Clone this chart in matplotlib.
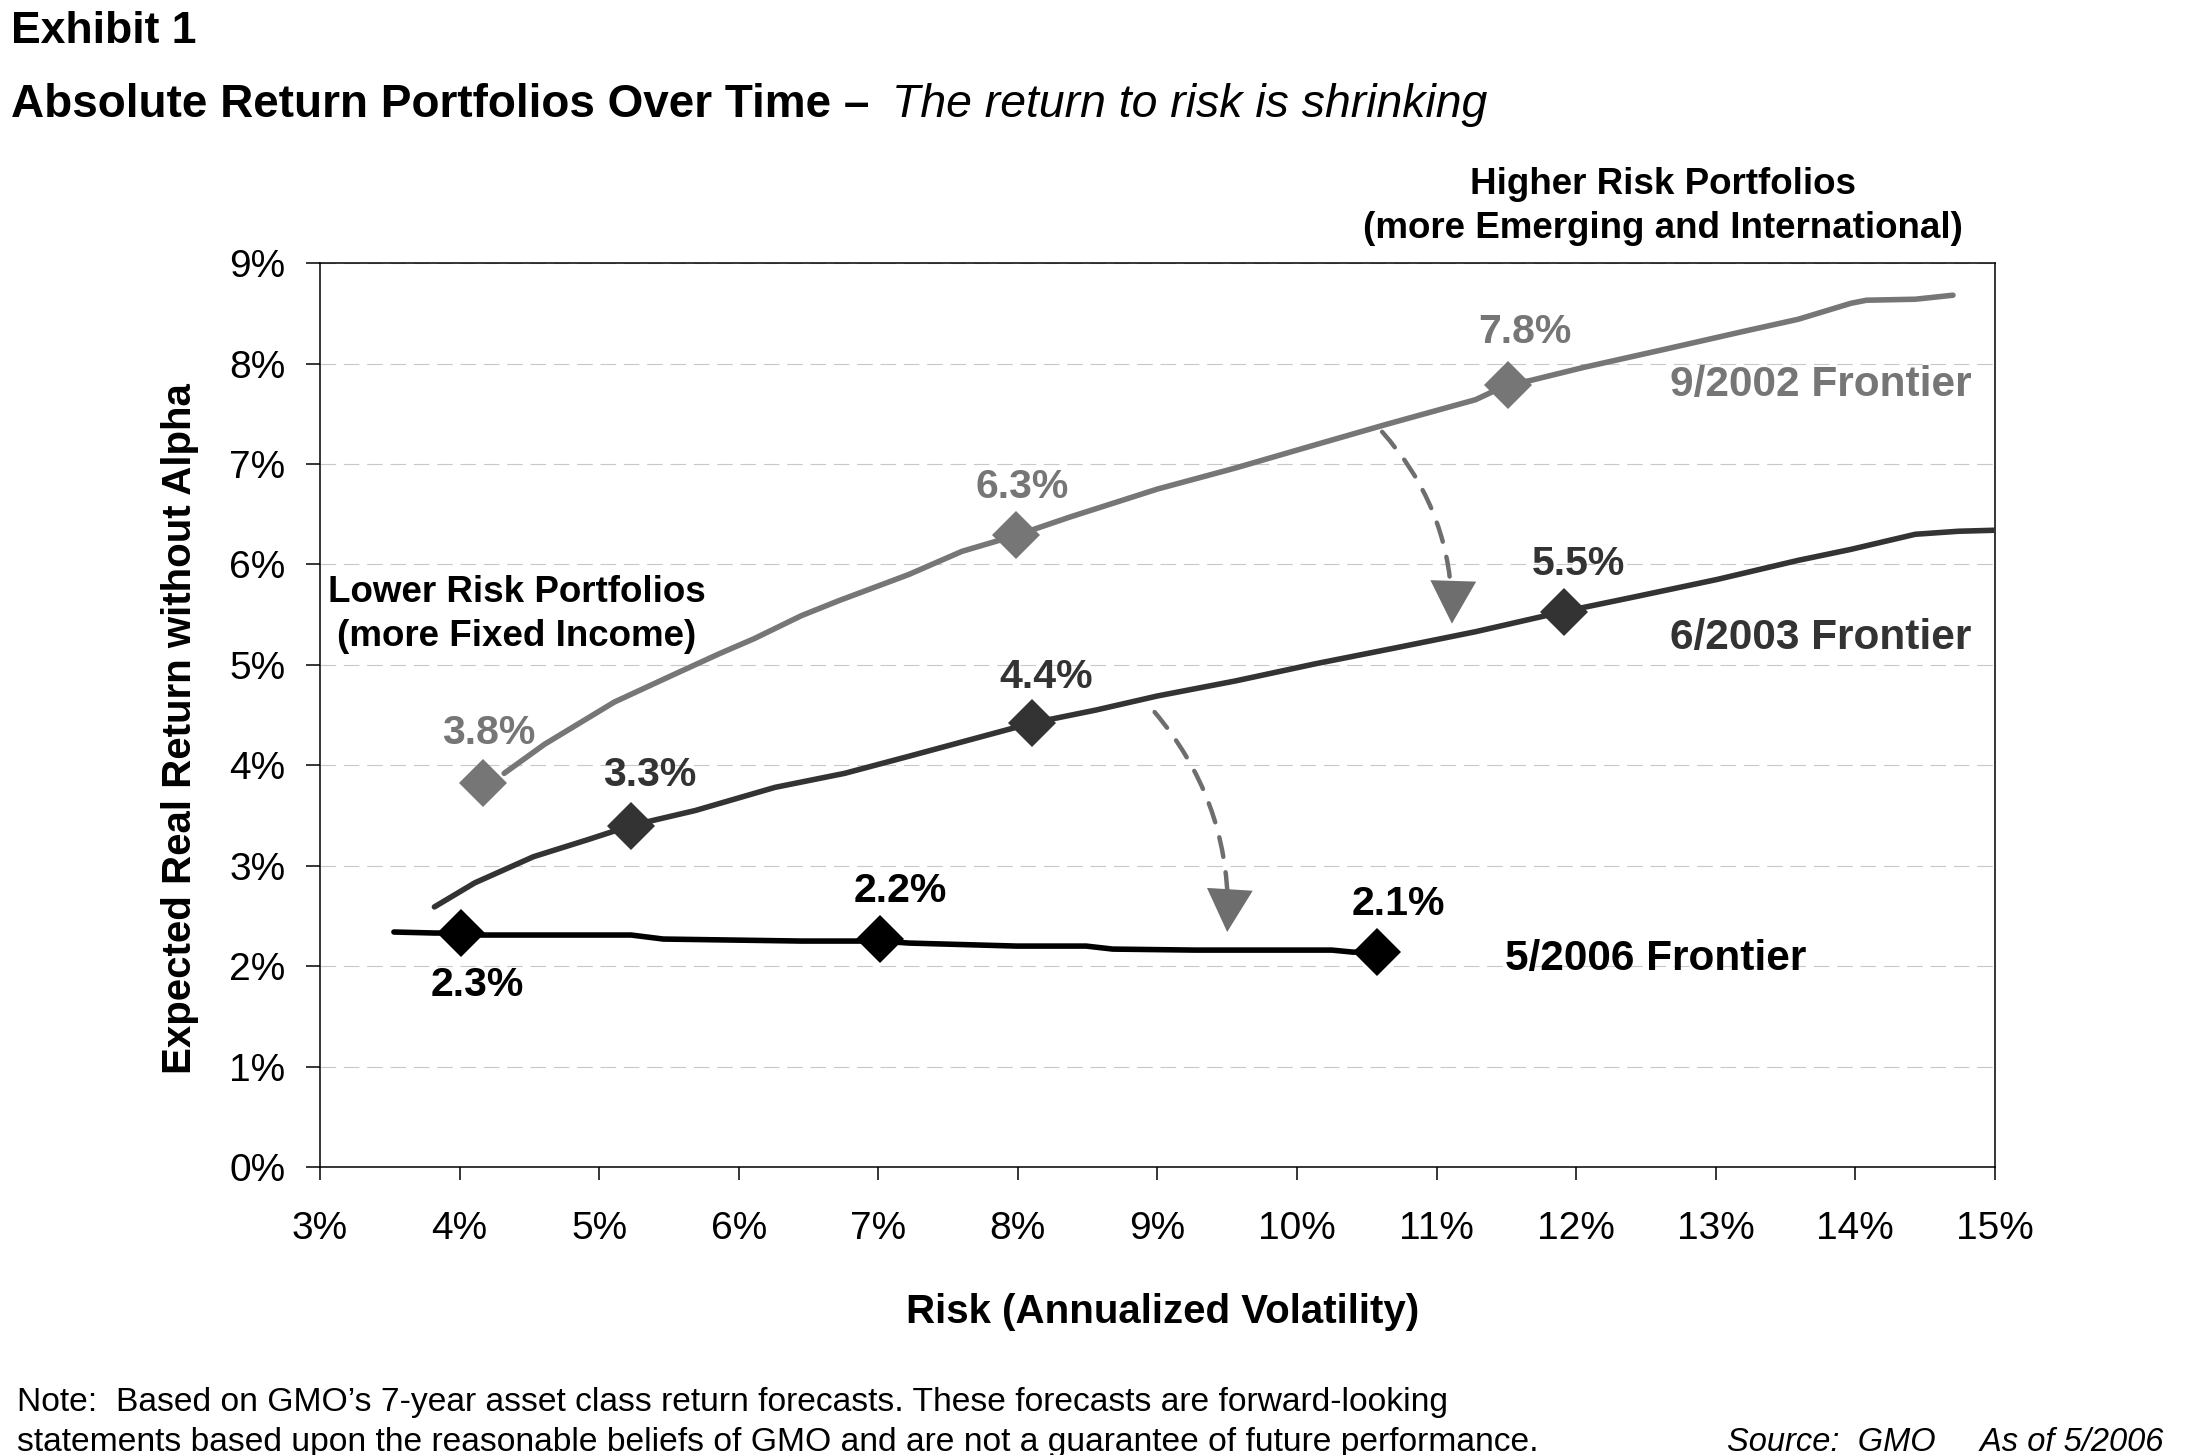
import matplotlib
matplotlib.use('Agg')
import matplotlib.pyplot as plt
from matplotlib.patches import FancyArrowPatch
from matplotlib.ticker import FuncFormatter

plt.rcParams['font.family'] = ['Liberation Sans', 'DejaVu Sans']

# ---------------- data ----------------
risk_2002 = [4.32, 4.61, 5.11, 5.53, 5.86, 6.11, 6.45, 6.72, 7.22, 7.60, 7.99, 8.37, 9.00,
             9.56, 10.13, 10.63, 11.28, 11.51, 11.67, 12.05, 12.63, 13.20, 13.59, 13.97,
             14.08, 14.43, 14.70]
ret_2002 = [3.92, 4.21, 4.63, 4.90, 5.11, 5.26, 5.49, 5.64, 5.90, 6.13, 6.29, 6.47, 6.75,
            6.96, 7.19, 7.39, 7.64, 7.79, 7.83, 7.96, 8.14, 8.32, 8.44, 8.60,
            8.63, 8.64, 8.68]

risk_2003 = [3.82, 4.11, 4.53, 4.92, 5.23, 5.69, 6.26, 6.76, 7.22, 8.10, 8.56, 9.00, 9.56,
             10.13, 10.71, 11.28, 11.91, 12.43, 13.01, 13.59, 13.97, 14.43, 14.74, 15.00]
ret_2003 = [2.59, 2.83, 3.09, 3.26, 3.40, 3.55, 3.78, 3.92, 4.09, 4.42, 4.55, 4.69, 4.84,
            5.01, 5.17, 5.33, 5.53, 5.68, 5.85, 6.04, 6.15, 6.30, 6.33, 6.34]

risk_2006 = [3.53, 3.82, 4.01, 4.15, 5.23, 5.46, 6.45, 7.01, 7.22, 7.99, 8.49, 8.68, 9.27,
             10.25, 10.40, 10.57]
ret_2006 = [2.34, 2.33, 2.33, 2.31, 2.31, 2.27, 2.25, 2.25, 2.23, 2.20, 2.20, 2.17, 2.16,
            2.16, 2.14, 2.14]

pt_risk_2002 = [4.17, 7.99, 11.51]
pt_ret_2002 = [3.82, 6.29, 7.79]
pt_lab_2002 = ['3.8%', '6.3%', '7.8%']

pt_risk_2003 = [5.23, 8.10, 11.91]
pt_ret_2003 = [3.40, 4.42, 5.53]
pt_lab_2003 = ['3.3%', '4.4%', '5.5%']

pt_risk_2006 = [4.01, 7.01, 10.57]
pt_ret_2006 = [2.33, 2.27, 2.14]
pt_lab_2006 = ['2.3%', '2.2%', '2.1%']

x_ticks = [3, 4, 5, 6, 7, 8, 9, 10, 11, 12, 13, 14, 15]
y_ticks = [0, 1, 2, 3, 4, 5, 6, 7, 8, 9]

C02 = '#767676'
C03 = '#333333'
C06 = '#000000'
CARROW = '#6e6e6e'

# ---------------- figure ----------------
fig = plt.figure(figsize=(22.05, 14.55), dpi=100)
ax = fig.add_axes([0.1451, 0.1979, 0.7596, 0.6213])

ax.set_xlim(3, 15)
ax.set_ylim(0, 9)
ax.set_xticks(x_ticks)
ax.set_yticks(y_ticks)
fmt = FuncFormatter(lambda v, p: f'{v:.0f}%')
ax.xaxis.set_major_formatter(fmt)
ax.yaxis.set_major_formatter(fmt)
ax.tick_params(axis='x', direction='out', length=9.5, width=1.1, pad=22, labelsize=28)
ax.tick_params(axis='y', direction='out', length=10, width=1.1, pad=15, labelsize=28)
for s in ax.spines.values():
    s.set_linewidth(1.1)
    s.set_color('black')

ax.yaxis.grid(True, linestyle=(0, (14, 7)), color='#c8c8c8', linewidth=0.8, zorder=0)
ax.set_axisbelow(True)

lw = 4.0
ms = 24
ax.plot(risk_2002, ret_2002, color=C02, lw=lw, solid_capstyle='round', solid_joinstyle='round', zorder=3)
ax.plot(risk_2003, ret_2003, color=C03, lw=lw, solid_capstyle='round', solid_joinstyle='round', zorder=3)
ax.plot(risk_2006, ret_2006, color=C06, lw=lw, solid_capstyle='round', solid_joinstyle='round', zorder=3)
ax.plot(pt_risk_2002, pt_ret_2002, 'D', color=C02, ms=ms, mew=0, zorder=4)
ax.plot(pt_risk_2003, pt_ret_2003, 'D', color=C03, ms=ms, mew=0, zorder=4)
ax.plot(pt_risk_2006, pt_ret_2006, 'D', color=C06, ms=ms, mew=0, zorder=4)

lab_fs = 29.5
lab_pos_2002 = [(4.21, 4.32), (8.03, 6.77), (11.63, 8.31)]
lab_pos_2003 = [(5.36, 3.90), (8.20, 4.88), (12.02, 6.00)]
lab_pos_2006 = [(4.13, 1.81), (7.16, 2.75), (10.73, 2.62)]
for labs, poss, col in [(pt_lab_2002, lab_pos_2002, C02),
                        (pt_lab_2003, lab_pos_2003, C03),
                        (pt_lab_2006, lab_pos_2006, C06)]:
    for t, (x, y) in zip(labs, poss):
        ax.text(x, y, t, ha='center', va='center', fontsize=lab_fs,
                fontweight='bold', color=col, zorder=5)

fr_fs = 30.5
ax.text(14.83, 7.79, '9/2002 Frontier', ha='right', va='center', fontsize=fr_fs,
        fontweight='bold', color=C02)
ax.text(14.83, 5.27, '6/2003 Frontier', ha='right', va='center', fontsize=fr_fs,
        fontweight='bold', color=C03)
ax.text(11.49, 2.07, '5/2006 Frontier', ha='left', va='center', fontsize=fr_fs,
        fontweight='bold', color=C06)

ax.text(4.41, 5.72, 'Lower Risk Portfolios', ha='center', va='center', fontsize=26.5,
        fontweight='bold')
ax.text(4.41, 5.28, '(more Fixed Income)', ha='center', va='center', fontsize=26.5,
        fontweight='bold')
ax.text(12.62, 9.78, 'Higher Risk Portfolios', ha='center', va='center', fontsize=26.5,
        fontweight='bold', clip_on=False)
ax.text(12.62, 9.34, '(more Emerging and International)', ha='center', va='center',
        fontsize=26.5, fontweight='bold', clip_on=False)

# arrows: dashed curved shaft + solid head
for (x0, y0), (x1, y1) in [((10.61, 7.32), (11.11, 5.41)), ((8.98, 4.53), (9.50, 2.34))]:
    shaft = FancyArrowPatch((x0, y0), (x1, y1), connectionstyle='arc3,rad=-0.2',
                            arrowstyle='-', color=CARROW, lw=3.2,
                            linestyle=(0, (4.5, 3.5)), zorder=4, shrinkA=0, shrinkB=16)
    ax.add_patch(shaft)
    head = FancyArrowPatch((x0, y0), (x1, y1), connectionstyle='arc3,rad=-0.2',
                           arrowstyle='-|>,head_length=1.4,head_width=0.75',
                           mutation_scale=22, facecolor=CARROW, edgecolor='none', lw=0,
                           zorder=4, shrinkA=0, shrinkB=0)
    ax.add_patch(head)

# axis labels
ax.set_xlabel('Risk (Annualized Volatility)', fontsize=29, fontweight='bold')
ax.xaxis.set_label_coords(0.503, -0.160)
ax.xaxis.label.set_verticalalignment('center')
ax.set_ylabel('Expected Real Return without Alpha', fontsize=29, fontweight='bold')
ax.yaxis.set_label_coords(-0.0836, 0.485)
ax.yaxis.label.set_verticalalignment('center')

# titles
fig.text(0.005, 0.9786, 'Exhibit 1', ha='left', va='center', fontsize=32, fontweight='bold')
t1 = fig.text(0.005, 0.928, 'Absolute Return Portfolios Over Time \u2013', ha='left',
              va='center', fontsize=33, fontweight='bold')
fig.canvas.draw()
bb = t1.get_window_extent(renderer=fig.canvas.get_renderer())
fig.text((bb.x1 + 23) / fig.bbox.width, 0.928, 'The return to risk is shrinking',
         ha='left', va='center', fontsize=33.4, fontstyle='italic')

# notes
fig.text(0.0077, 0.0364,
         'Note:  Based on GMO\u2019s 7-year asset class return forecasts. These forecasts are forward-looking',
         ha='left', va='center', fontsize=24.2)
fig.text(0.0077, 0.0089,
         'statements based upon the reasonable beliefs of GMO and are not a guarantee of future performance.',
         ha='left', va='center', fontsize=24.2)
fig.text(0.981, 0.0089, 'Source:  GMO     As of 5/2006', ha='right', va='center',
         fontsize=23.5, fontstyle='italic')

fig.savefig('out.png', dpi=100)
